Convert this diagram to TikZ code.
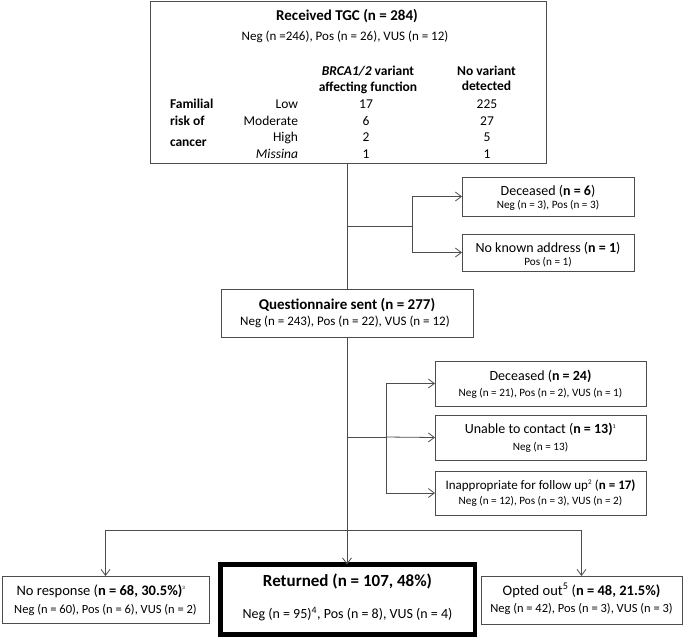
\documentclass[tikz,border=0pt]{standalone}
\usepackage{fontspec}
\setmainfont{Carlito}
\usetikzlibrary{arrows.meta}
\newcommand\myfs[1]{\fontsize{#1}{#1}\selectfont}
\tikzset{
  ln/.style={draw=black!70, line width=0.8pt},
  arr/.style={ln, -{Straight Barb[length=6pt,width=9pt]}},
  box/.style={draw=black!70, line width=0.8pt, inner sep=0pt, outer sep=0pt},
  txt/.style={anchor=base, inner sep=0pt, outer sep=0pt},
  lbl/.style={anchor=base east, inner sep=0pt, outer sep=0pt},
  lbw/.style={anchor=base west, inner sep=0pt, outer sep=0pt},
}
\begin{document}
\begin{tikzpicture}[x=1pt,y=-1pt]
\useasboundingbox (0,0) rectangle (685,638);

% ---------- top box ----------
\node[box, minimum width=395.5pt, minimum height=162.5pt] (top) at (348.25,82.25) {};
\node[txt] (topa) at (347,20) {\myfs{15}\bfseries Received TGC (n = 284)};
\node[txt] (topb) at (345,40) {\myfs{13}Neg (n =246), Pos (n = 26), VUS (n = 12)};
\node[txt] (h1a) at (368,75) {\myfs{13.5}\bfseries\textit{BRCA1/2} variant};
\node[txt] (h1b) at (368,91.7) {\myfs{13.5}\bfseries affecting function};
\node[txt] (h2a) at (486.5,75) {\myfs{13.5}\bfseries No variant};
\node[txt] (h2b) at (486.5,90) {\myfs{13.5}\bfseries detected};
\node[lbw] (fa) at (170,108) {\myfs{13.5}\bfseries Familial};
\node[lbw] (fb) at (170,125) {\myfs{13.5}\bfseries risk of};
\node[lbw] (fc) at (170,146.7) {\myfs{13.5}\bfseries cancer};
\node[lbl] (rlow) at (298,108) {\myfs{13.5}Low};
\node[lbl] (rmod) at (298,125) {\myfs{13.5}Moderate};
\node[lbl] (rhigh) at (298,141.7) {\myfs{13.5}High};
\node[lbl] (rmiss) at (298,158) {\myfs{13.5}\itshape Missina};
\node[txt] (c1a) at (366,108) {\myfs{13.5}17};
\node[txt] (c1b) at (366,125) {\myfs{13.5}6};
\node[txt] (c1c) at (366,141.7) {\myfs{13.5}2};
\node[txt] (c1d) at (366,158) {\myfs{13.5}1};
\node[txt] (c2a) at (487,108) {\myfs{13.5}225};
\node[txt] (c2b) at (487,125) {\myfs{13.5}27};
\node[txt] (c2c) at (487,141.7) {\myfs{13.5}5};
\node[txt] (c2d) at (487,158) {\myfs{13.5}1};

% ---------- first side boxes ----------
\node[box, minimum width=172pt, minimum height=39pt] (dec1) at (548,196.5) {};
\node[txt] (dec1a) at (548,195.7) {\myfs{14}Deceased (\textbf{n = 6})};
\node[txt] (dec1b) at (548,208.3) {\myfs{11.2}Neg (n = 3), Pos (n = 3)};
\node[box, minimum width=172pt, minimum height=37pt] (nka) at (548,252.5) {};
\node[txt] (nkaa) at (548,252.7) {\myfs{14}No known address (\textbf{n = 1})};
\node[txt] (nkab) at (548,265.7) {\myfs{11.2}Pos (n = 1)};

% ---------- questionnaire ----------
\node[box, minimum width=252pt, minimum height=48pt] (q) at (347,313) {};
\node[txt] (qa) at (347,309.3) {\myfs{15}\bfseries Questionnaire sent (n = 277)};
\node[txt] (qb) at (345,325.7) {\myfs{13}Neg (n = 243), Pos (n = 22), VUS (n = 12)};

% ---------- second side boxes ----------
\node[box, minimum width=211pt, minimum height=45pt] (dec2) at (540.5,383.5) {};
\node[txt] (dec2a) at (540.5,380) {\myfs{14}Deceased (\textbf{n = 24)}};
\node[txt] (dec2b) at (540.5,396) {\myfs{11.2}Neg (n = 21), Pos (n = 2), VUS (n = 1)};
\node[box, minimum width=211pt, minimum height=45pt] (una) at (540.5,437.5) {};
\node[txt] (unaa) at (540.5,433.3) {\myfs{14}Unable to contact (\textbf{n = 13)}\textsuperscript{\myfs{6}1}};
\node[txt] (unab) at (540.5,450.7) {\myfs{11.2}Neg (n = 13)};
\node[box, minimum width=211pt, minimum height=44pt] (inap) at (540.5,493) {};
\node[txt] (inapa) at (540.5,489.3) {\myfs{13}Inappropriate for follow up\textsuperscript{\myfs{7}2} (\textbf{n = 17)}};
\node[txt] (inapb) at (540.5,504.3) {\myfs{11.2}Neg (n = 12), Pos (n = 3), VUS (n = 2)};

% ---------- bottom boxes ----------
\node[box, minimum width=207pt, minimum height=47pt] (nr) at (105.5,599.5) {};
\node[txt] (nra) at (101,595) {\myfs{14.5}No response (\textbf{n = 68, 30.5\%)}\textsuperscript{\myfs{5}3}};
\node[txt] (nrb) at (105.5,613.3) {\myfs{12.5}Neg (n = 60), Pos (n = 6), VUS (n = 2)};

\node[draw=black, line width=4.5pt, inner sep=0pt, outer sep=0pt,
      minimum width=254.5pt, minimum height=70pt] (ret) at (347.5,599.5) {};
\node[txt] (reta) at (347.5,586) {\myfs{17}\bfseries Returned (n = 107, 48\%)};
\node[txt] (retb) at (347.5,618.3) {\myfs{14}Neg (n = 95)\textsuperscript{4}, Pos (n = 8), VUS (n = 4)};

\node[box, minimum width=201pt, minimum height=48pt] (oo) at (581.5,600) {};
\node[txt] (ooa) at (581.5,595) {\myfs{14.5}Opted out\textsuperscript{5} (\textbf{n = 48, 21.5\%)}};
\node[txt] (oob) at (581.5,612.7) {\myfs{12.5}Neg (n = 42), Pos (n = 3), VUS (n = 3)};

% ---------- connectors ----------
\coordinate (j1) at (347,226);
\coordinate (b1) at (412,226);
\coordinate (j2) at (347,437);
\coordinate (b2) at (386,437);
\coordinate (j3) at (347,530);

\draw[ln] (q.north |- top.south) -- (q.north);
\draw[ln] (j1) -- (b1);
\draw[arr] (b1) |- (dec1.west);
\draw[arr] (b1) |- (nka.west);

\draw[arr] (q.south) -- (q.south |- ret.north);
\draw[ln] (j2) -- (b2);
\draw[arr] (b2) |- (dec2.west);
\draw[arr] (b2) -- (una.west);
\draw[arr] (b2) |- (inap.west);

\draw[arr] (j3) -| (nr.north);
\draw[arr] (j3) -| (oo.north);
\end{tikzpicture}
\end{document}
